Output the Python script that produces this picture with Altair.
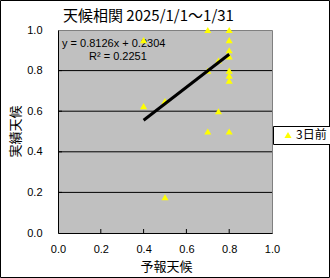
import altair as alt
import pandas as pd

# ---- data ----
forecast = [0.4, 0.4, 0.5, 0.5, 0.7, 0.7, 0.7, 0.75, 0.75, 0.8, 0.8, 0.8, 0.8, 0.8, 0.8, 0.8, 0.8]
actual   = [0.95, 0.625, 0.65, 0.176, 1.0, 0.8, 0.5, 0.85, 0.6, 1.0, 0.95, 0.9, 0.87, 0.8, 0.775, 0.75, 0.5]
series_name = "3日前"
slope = 0.8126
intercept = 0.2304
r2 = 0.2251
tick_values = [0.0, 0.2, 0.4, 0.6, 0.8, 1.0]
grid_values = [0.2, 0.4, 0.6, 0.8]
title_text = "天候相関 2025/1/1～1/31"
x_title = "予報天候"
y_title = "実績天候"

W, H = 214, 203
CJK = "Noto Sans CJK JP"
LAT = "Liberation Sans"

pts = pd.DataFrame({"fx": forecast, "ay": actual, "series": [series_name] * len(forecast)})
xmin, xmax = min(forecast), max(forecast)
trend = pd.DataFrame({"fx": [xmin, xmax], "ay": [slope * xmin + intercept, slope * xmax + intercept]})
grid = pd.DataFrame({"fx": grid_values, "ay": grid_values})
one = pd.DataFrame({"a": [0]})

xscale = alt.Scale(domain=[0, 1], nice=False, zero=False)
yscale = alt.Scale(domain=[0, 1], nice=False, zero=False)

xaxis = alt.Axis(values=tick_values, format=".1f", labelFont=LAT, labelFontSize=11, labelColor="black",
                 tickSize=0, labelPadding=10, domainColor="black", grid=False, labelFlush=False,
                 title=x_title, titleFont=CJK, titleFontSize=13, titleFontWeight="normal", titleColor="black",
                 titleX=108, titleY=33, titleBaseline="middle", titleAlign="center")
yaxis = alt.Axis(values=tick_values, format=".1f", labelFont=LAT, labelFontSize=11, labelColor="black",
                 tickSize=0, labelPadding=16, domainColor="black", grid=False, labelFlush=False,
                 title=y_title, titleFont=CJK, titleFontSize=13, titleFontWeight="normal", titleColor="black",
                 titleAngle=270, titleX=-43, titleY=101, titleBaseline="middle", titleAlign="center")

X = alt.X("fx:Q", scale=xscale, axis=xaxis)
Y = alt.Y("ay:Q", scale=yscale, axis=yaxis)

points = alt.Chart(pts).mark_point(shape="triangle-up", filled=True, size=50, opacity=1).encode(
    x=X, y=Y,
    color=alt.Color("series:N", scale=alt.Scale(range=["#FFFF00"]),
                    legend=alt.Legend(title=None, orient="none", legendX=215, legendY=96,
                                      symbolType="triangle-up", symbolSize=50, symbolStrokeWidth=0,
                                      labelFont=CJK, labelFontSize=12, labelColor="black",
                                      padding=3, symbolOffset=6, labelOffset=2,
                                      strokeColor="black", fillColor="white")),
)

gridlines = alt.Chart(grid).mark_rule(color="black", strokeWidth=1).encode(y=Y)
xticks = alt.Chart(grid).mark_rule(color="black").encode(x=X, y=alt.value(H), y2=alt.value(H - 4))
yticks = alt.Chart(grid).mark_rule(color="black").encode(y=Y, x=alt.value(0), x2=alt.value(4))

line = alt.Chart(trend).mark_line(color="black", strokeWidth=3).encode(x=X, y=Y)

eq1 = alt.Chart(one).mark_text(align="left", baseline="middle", font=LAT, fontSize=11, color="black").encode(
    x=alt.value(4), y=alt.value(14), text=alt.value(f"y = {slope}x + {intercept}"))
eq2 = alt.Chart(one).mark_text(align="left", baseline="middle", font=LAT, fontSize=11, color="black").encode(
    x=alt.value(31), y=alt.value(27), text=alt.value(f"R² = {r2}"))

title = alt.Chart(one).mark_text(align="left", baseline="middle", font=CJK, fontSize=15, color="black").encode(
    x=alt.value(5), y=alt.value(-14), text=alt.value(title_text))

border = alt.Chart(one).mark_rect(fillOpacity=0, stroke="black", strokeWidth=1).encode(
    x=alt.value(-57.5), x2=alt.value(271.5), y=alt.value(-29.5), y2=alt.value(247.5))

chart = alt.layer(gridlines, xticks, yticks, eq1, eq2, points, line, title, border).properties(
    width=W, height=H,
    padding={"left": 58, "top": 30, "right": 58, "bottom": 45},
    autosize=alt.AutoSizeParams(type="none"),
    background="white",
).configure_view(fill="#C0C0C0", stroke="#808080", strokeWidth=1)

chart.save("out.html", embed_options={"renderer": "svg", "actions": False})
